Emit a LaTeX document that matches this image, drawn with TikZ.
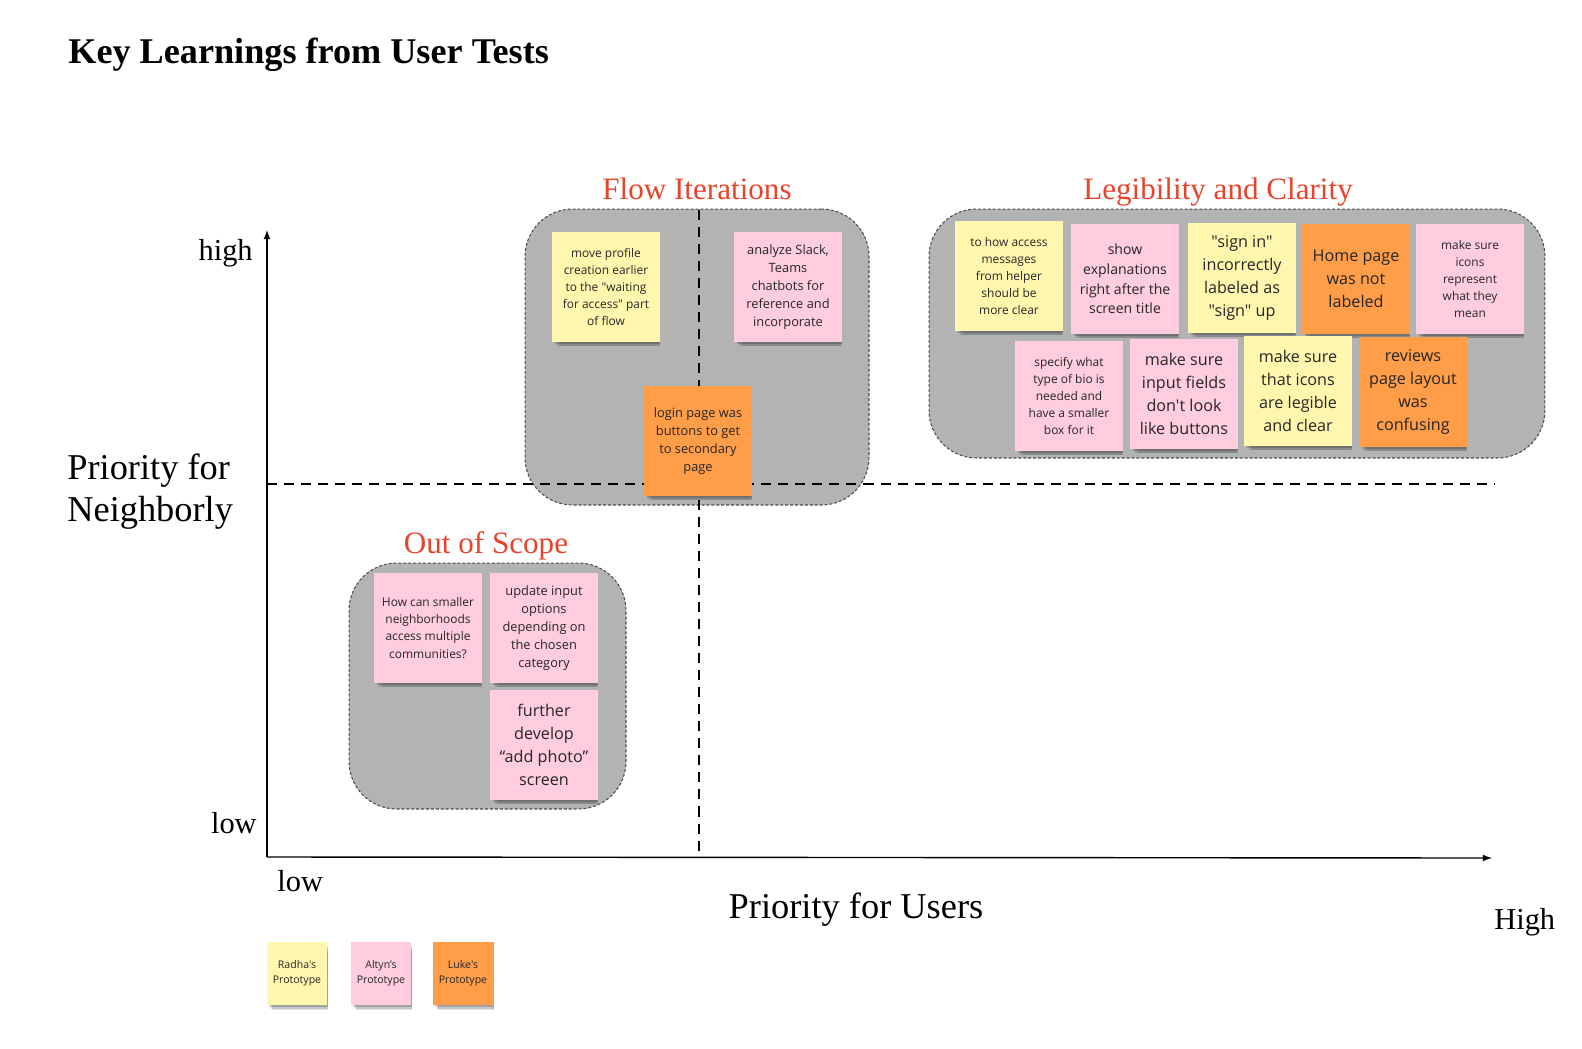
\documentclass[tikz,border=0pt]{standalone}
\usepackage{fontspec}
\setmainfont{Liberation Serif}
\newfontfamily\notefont{Open Sans}
\usetikzlibrary{shadows}

\definecolor{stickyyellow}{HTML}{FFF7AE}
\definecolor{stickypink}{HTML}{FFCCE0}
\definecolor{stickyorange}{HTML}{FF9D48}
\definecolor{groupgray}{HTML}{B3B3B3}
\definecolor{headred}{HTML}{E8432B}

\newcommand\notesmall{\notefont\fontsize{6.8}{9.7}\selectfont}
\newcommand\notemid{\notefont\fontsize{7.3}{10.2}\selectfont}
\newcommand\noteplain{\notefont\fontsize{8}{11.2}\selectfont}
\newcommand\notebig{\notefont\fontsize{9.2}{13}\selectfont}
\newcommand\notelegend{\notefont\fontsize{6}{8.5}\selectfont}

\begin{document}
\begin{tikzpicture}[x=0.02cm,y=-0.02cm,
    note/.style={fill=#1, text=black!85, minimum width=2.16cm, minimum height=2.22cm,
        inner sep=1pt, align=center, font=\notesmall,
        drop shadow={shadow xshift=2pt, shadow yshift=-5pt, shadow scale=0.92, opacity=0.1, fill=black},
        drop shadow={shadow xshift=1.5pt, shadow yshift=-3.5pt, shadow scale=0.95, opacity=0.14, fill=black},
        drop shadow={shadow xshift=1pt, shadow yshift=-2pt, shadow scale=0.97, opacity=0.18, fill=black}},
    legendnote/.style={note=#1, minimum width=1.22cm, minimum height=1.26cm, font=\notelegend},
    groupbox/.style={draw=black!70, fill=groupgray, line width=0.6pt,
        dash pattern=on 1.7pt off 1.1pt, rounded corners=0.95cm},
    quadline/.style={line width=1.5pt, dash pattern=on 5.7pt off 4pt},
    axislabel/.style={inner sep=0pt, font=\fontsize{20.7}{23.8}\selectfont},
    ticklabel/.style={inner sep=0pt, font=\fontsize{17.3}{20}\selectfont},
    heading/.style={text=headred, inner sep=0pt, anchor=base, font=\fontsize{17.7}{20}\selectfont}]
    \useasboundingbox (0,0) rectangle (1582,1048);

    \node[anchor=base west, inner sep=0pt, font=\bfseries\fontsize{20.6}{24}\selectfont] (title) at (68,63) {Key Learnings from User Tests};

    % groups
    \node[groupbox, minimum width=6.88cm, minimum height=5.92cm] (flowbox) at (697,357) {};
    \node[groupbox, minimum width=12.32cm, minimum height=4.98cm] (legibox) at (1237,333.5) {};
    \node[groupbox, minimum width=5.54cm, minimum height=4.92cm] (scopebox) at (487.5,686) {};
    \node[heading] (flowhead) at (697,199) {Flow Iterations};
    \node[heading] (legihead) at (1218,199) {Legibility and Clarity};
    \node[heading] (scopehead) at (486,553) {Out of Scope};

    % axes
    \coordinate (origin) at (267,857);
    \coordinate (ytip) at (267,230);
    \coordinate (xtip) at (1492,858);
    \draw[-latex, line width=0.8pt] (origin) -- (ytip);
    \draw[-latex, line width=0.8pt] (origin) -- (xtip);
    \coordinate (hleft) at (267,484);
    \coordinate (hright) at (1495,484);
    \coordinate (vtop) at (699,210);
    \coordinate (vbot) at (699,857);
    \draw[quadline] (hleft) -- (hright);
    \draw[quadline] (vtop) -- (vbot);

    \node[ticklabel, anchor=east] (yhigh) at (253,253) {high};
    \node[ticklabel, anchor=east] (ylow) at (257,823) {low};
    \node[ticklabel, anchor=west] (xlow) at (277,881) {low};
    \node[ticklabel, anchor=west] (xhigh) at (1494,922) {High};
    \node[axislabel, anchor=base west, align=left] (ylabel) at (67,521) {Priority for\\Neighborly};
    \node[axislabel] (xlabel) at (856,910) {Priority for Users};

    % flow iterations
    \node[note=stickyyellow] (moveprofile) at (606,287) {move profile\\creation earlier\\to the "waiting\\for access" part\\of flow};
    \node[note=stickypink, font=\notemid] (analyze) at (788,287) {analyze Slack,\\Teams\\chatbots for\\reference and\\incorporate};
    \node[note=stickyorange, font=\notemid] (login) at (698,441) {login page was\\buttons to get\\to secondary\\page};

    % legibility and clarity
    \node[note=stickyyellow] (accessmsg) at (1009,276) {to how access\\messages\\from helper\\should be\\more clear};
    \node[note=stickypink, font=\noteplain] (explain) at (1125,279) {show\\explanations\\right after the\\screen title};
    \node[note=stickyyellow, font=\notebig] (signin) at (1242,278) {"sign in"\\incorrectly\\labeled as\\"sign" up};
    \node[note=stickyorange, font=\notebig] (homepage) at (1356,279) {Home page\\was not\\labeled};
    \node[note=stickypink] (iconsmean) at (1470,279) {make sure\\icons\\represent\\what they\\mean};
    \node[note=stickypink] (bio) at (1069,396) {specify what\\type of bio is\\needed and\\have a smaller\\box for it};
    \node[note=stickypink, font=\notebig] (inputfields) at (1184,394) {make sure\\input fields\\don't look\\like buttons};
    \node[note=stickyyellow, font=\notebig] (iconslegible) at (1298,391) {make sure\\that icons\\are legible\\and clear};
    \node[note=stickyorange, font=\notebig] (reviews) at (1413,392) {reviews\\page layout\\was\\confusing};

    % out of scope
    \node[note=stickypink] (smallhoods) at (428,628) {How can smaller\\neighborhoods\\access multiple\\communities?};
    \node[note=stickypink, font=\notemid] (inputopts) at (544,628) {update input\\options\\depending on\\the chosen\\category};
    \node[note=stickypink, font=\notebig] (addphoto) at (544,745) {further\\develop\\“add photo”\\screen};

    % legend
    \node[legendnote=stickyyellow] (radha) at (297,973) {Radha's\\Prototype};
    \node[legendnote=stickypink] (altyn) at (381,973) {Altyn’s\\Prototype};
    \node[legendnote=stickyorange] (luke) at (463,973) {Luke's\\Prototype};
\end{tikzpicture}
\end{document}
